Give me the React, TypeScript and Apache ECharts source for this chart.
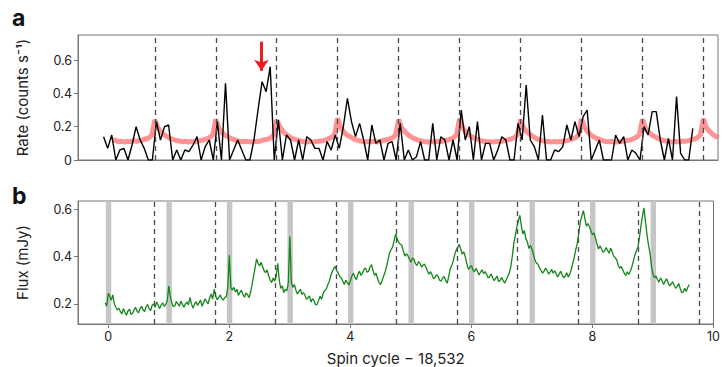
import React, { useEffect, useRef } from "react";
import * as echarts from "echarts";

// ---------- data ----------
// Panel a: observed X-ray rate (black), sampled every 1/15 spin cycle from x = -0.08
const RATE_X0 = -0.08;
const RATE_STEP = 1 / 15;
const rateValues = [
  0.14, 0.07, 0.15, 0.0, 0.06, 0.07, 0.0, 0.09, 0.2, 0.12, 0.07, 0.0, 0.0, 0.23, 0.12,
  0.2, 0.21, 0.0, 0.06, 0.0, 0.06, 0.05, 0.09, 0.14, 0.0, 0.08, 0.12, 0.0, 0.23, 0.0,
  0.46, 0.0, 0.06, 0.12, 0.06, 0.0, 0.0, 0.12, 0.3, 0.47, 0.41, 0.56, 0.0, 0.24, 0.0,
  0.15, 0.12, 0.0, 0.12, 0.0, 0.14, 0.12, 0.07, 0.07, 0.0, 0.11, 0.06, 0.15, 0.07, 0.2,
  0.37, 0.23, 0.14, 0.22, 0.12, 0.0, 0.21, 0.1, 0.12, 0.0, 0.1, 0.11, 0.0, 0.22, 0.0,
  0.06, 0.0, 0.02, 0.11, 0.0, 0.0, 0.22, 0.0, 0.14, 0.12, 0.0, 0.12, 0.0, 0.3, 0.12,
  0.2, 0.0, 0.23, 0.0, 0.1, 0.1, 0.0, 0.06, 0.14, 0.12, 0.0, 0.0, 0.22, 0.12, 0.45,
  0.12, 0.08, 0.0, 0.27, 0.0, 0.0, 0.06, 0.05, 0.08, 0.21, 0.12, 0.23, 0.14, 0.26, 0.3,
  0.0, 0.06, 0.12, 0.0, 0.0, 0.0, 0.15, 0.1, 0.14, 0.0, 0.06, 0.04, 0.0, 0.2, 0.15,
  0.29, 0.29, 0.12, 0.0, 0.13, 0.0, 0.38, 0.04, 0.0, 0.0, 0.19,
];

// Panel a: model rate (red), sampled every 0.05 cycle from x = 0.06
const MODEL_X0 = 0.06;
const MODEL_STEP = 0.05;
const modelValues = [
  0.12, 0.118, 0.11, 0.113, 0.108, 0.112, 0.11, 0.115, 0.112, 0.118, 0.12, 0.126, 0.132, 0.148, 0.24, 0.195, 0.17, 0.152, 0.14, 0.13,
  0.124, 0.117, 0.114, 0.11, 0.113, 0.108, 0.111, 0.109, 0.114, 0.117, 0.121, 0.127, 0.135, 0.15, 0.245, 0.19, 0.165, 0.15, 0.138, 0.128,
  0.122, 0.115, 0.112, 0.109, 0.112, 0.11, 0.108, 0.113, 0.11, 0.116, 0.122, 0.125, 0.134, 0.147, 0.24, 0.2, 0.172, 0.155, 0.14, 0.131,
  0.123, 0.119, 0.113, 0.11, 0.108, 0.112, 0.107, 0.111, 0.113, 0.115, 0.12, 0.128, 0.136, 0.152, 0.25, 0.196, 0.168, 0.15, 0.141, 0.129,
  0.121, 0.116, 0.112, 0.108, 0.111, 0.109, 0.112, 0.108, 0.112, 0.118, 0.121, 0.126, 0.133, 0.149, 0.242, 0.193, 0.17, 0.153, 0.139, 0.13,
  0.122, 0.117, 0.111, 0.11, 0.107, 0.11, 0.109, 0.112, 0.111, 0.116, 0.12, 0.125, 0.134, 0.15, 0.248, 0.198, 0.166, 0.151, 0.14, 0.128,
  0.124, 0.116, 0.113, 0.109, 0.11, 0.108, 0.112, 0.11, 0.113, 0.117, 0.122, 0.127, 0.135, 0.151, 0.243, 0.194, 0.169, 0.154, 0.142, 0.13,
  0.121, 0.118, 0.112, 0.111, 0.108, 0.111, 0.108, 0.112, 0.11, 0.115, 0.121, 0.126, 0.133, 0.148, 0.246, 0.197, 0.171, 0.152, 0.139, 0.129,
  0.123, 0.115, 0.111, 0.109, 0.112, 0.107, 0.11, 0.111, 0.114, 0.118, 0.12, 0.127, 0.136, 0.152, 0.244, 0.192, 0.167, 0.15, 0.141, 0.131,
  0.122, 0.117, 0.113, 0.11, 0.108, 0.111, 0.109, 0.112, 0.112, 0.116, 0.121, 0.125, 0.134, 0.149, 0.247, 0.195, 0.172, 0.155, 0.142, 0.135,
];

// Panel b: radio flux (green), sampled every 0.025 cycle from x = -0.05
const FLUX_X0 = -0.05;
const FLUX_STEP = 0.025;
const fluxValues = [
  0.205, 0.19, 0.245, 0.232, 0.215, 0.238, 0.2, 0.186, 0.175, 0.182, 0.168, 0.158, 0.18, 0.166, 0.152, 0.17, 0.178, 0.156, 0.16, 0.174,
  0.186, 0.17, 0.162, 0.18, 0.19, 0.174, 0.168, 0.188, 0.198, 0.18, 0.172, 0.194, 0.2, 0.186, 0.208, 0.194, 0.18, 0.196, 0.204, 0.19,
  0.198, 0.214, 0.275, 0.232, 0.205, 0.188, 0.192, 0.21, 0.2, 0.19, 0.212, 0.198, 0.186, 0.2, 0.208, 0.196, 0.228, 0.2, 0.182, 0.198,
  0.21, 0.194, 0.204, 0.216, 0.19, 0.206, 0.222, 0.21, 0.2, 0.226, 0.242, 0.22, 0.262, 0.232, 0.218, 0.226, 0.238, 0.222, 0.216, 0.228,
  0.23, 0.27, 0.405, 0.27, 0.258, 0.27, 0.25, 0.262, 0.236, 0.248, 0.258, 0.24, 0.228, 0.246, 0.24, 0.226, 0.248, 0.28, 0.316, 0.352,
  0.39, 0.372, 0.36, 0.376, 0.358, 0.34, 0.332, 0.344, 0.318, 0.302, 0.29, 0.31, 0.296, 0.318, 0.372, 0.3, 0.266, 0.276, 0.248, 0.262,
  0.255, 0.29, 0.485, 0.29, 0.27, 0.282, 0.258, 0.242, 0.252, 0.262, 0.24, 0.248, 0.236, 0.22, 0.226, 0.234, 0.208, 0.222, 0.214, 0.196,
  0.198, 0.214, 0.232, 0.22, 0.244, 0.256, 0.262, 0.28, 0.294, 0.318, 0.336, 0.35, 0.358, 0.34, 0.33, 0.316, 0.31, 0.296, 0.282, 0.3,
  0.29, 0.28, 0.298, 0.318, 0.33, 0.312, 0.302, 0.326, 0.338, 0.32, 0.33, 0.346, 0.352, 0.334, 0.338, 0.356, 0.366, 0.34, 0.32, 0.33,
  0.306, 0.29, 0.282, 0.3, 0.318, 0.336, 0.36, 0.39, 0.418, 0.43, 0.442, 0.47, 0.496, 0.474, 0.46, 0.452, 0.448, 0.424, 0.402, 0.412,
  0.404, 0.39, 0.376, 0.394, 0.39, 0.37, 0.362, 0.378, 0.372, 0.356, 0.364, 0.368, 0.354, 0.338, 0.326, 0.336, 0.322, 0.306, 0.312, 0.324,
  0.316, 0.3, 0.296, 0.31, 0.316, 0.298, 0.288, 0.316, 0.348, 0.362, 0.382, 0.41, 0.428, 0.44, 0.452, 0.43, 0.41, 0.42, 0.398, 0.37,
  0.346, 0.354, 0.362, 0.344, 0.336, 0.35, 0.338, 0.322, 0.334, 0.344, 0.328, 0.336, 0.326, 0.31, 0.314, 0.326, 0.312, 0.298, 0.308, 0.318,
  0.294, 0.3, 0.312, 0.298, 0.288, 0.302, 0.316, 0.33, 0.356, 0.4, 0.456, 0.49, 0.524, 0.552, 0.574, 0.53, 0.496, 0.51, 0.476, 0.462,
  0.434, 0.448, 0.432, 0.408, 0.386, 0.372, 0.368, 0.352, 0.342, 0.33, 0.338, 0.352, 0.34, 0.326, 0.334, 0.346, 0.33, 0.34, 0.328, 0.314,
  0.326, 0.338, 0.322, 0.31, 0.318, 0.332, 0.314, 0.326, 0.346, 0.372, 0.398, 0.43, 0.456, 0.5, 0.548, 0.572, 0.594, 0.56, 0.528, 0.54,
  0.526, 0.508, 0.492, 0.5, 0.478, 0.452, 0.432, 0.446, 0.432, 0.418, 0.424, 0.438, 0.426, 0.414, 0.436, 0.42, 0.402, 0.396, 0.386, 0.364,
  0.35, 0.358, 0.344, 0.33, 0.32, 0.336, 0.324, 0.338, 0.356, 0.38, 0.406, 0.424, 0.438, 0.48, 0.526, 0.57, 0.606, 0.55, 0.494, 0.45,
  0.416, 0.36, 0.326, 0.31, 0.318, 0.302, 0.292, 0.31, 0.298, 0.282, 0.296, 0.306, 0.29, 0.276, 0.284, 0.294, 0.278, 0.266, 0.274, 0.286,
  0.264, 0.248, 0.25, 0.266, 0.252, 0.27, 0.282,
];

// Dashed reference phases and grey windows (spin-cycle units)
const dashedPhases = [0.76, 1.76, 2.76, 3.76, 4.76, 5.76, 6.76, 7.76, 8.76, 9.76];
const bandStarts = [-0.04, 0.96, 1.96, 2.96, 3.96, 4.96, 5.96, 6.96, 7.96, 8.96];
const bandEnds = [0.05, 1.05, 2.05, 3.05, 4.05, 5.05, 6.05, 7.05, 8.05, 9.05];

// Arrow annotation (x, y from, y to) in data units of panel a
const arrowX = 2.51;
const arrowFrom = 0.71;
const arrowTo = 0.535;

// Tick labels
const xTicks = [0, 2, 4, 6, 8, 10];
const rateTicks = [0, 0.2, 0.4, 0.6];
const fluxTicks = [0.2, 0.4, 0.6];

const FONT = "Inter, Roboto, 'DejaVu Sans', sans-serif";
const AXIS_COLOR = "#777";
const TEXT_COLOR = "#222";

export default function App() {
  const ref = useRef<HTMLDivElement>(null);

  useEffect(() => {
    if (!ref.current) return;
    const chart = echarts.init(ref.current, null, { renderer: "svg" });

    const rateData = rateValues.map((v, i) => [RATE_X0 + i * RATE_STEP, v]);
    const modelData = modelValues.map((v, i) => [MODEL_X0 + i * MODEL_STEP, v]);
    const fluxData = fluxValues.map((v, i) => [FLUX_X0 + i * FLUX_STEP, v]);

    const dashLines = {
      silent: true,
      symbol: "none",
      label: { show: false },
      lineStyle: { color: "#4a4a4a", type: [5, 4], width: 1.3 },
      data: dashedPhases.map((x) => ({ xAxis: x })),
    };

    const fmt = (v: number) => (v === 0 ? "0" : v.toFixed(1));

    const yAxisCommon = {
      type: "value" as const,
      nameLocation: "middle" as const,
      nameTextStyle: { fontSize: 15, color: TEXT_COLOR, fontFamily: FONT },
      axisLine: { show: true, onZero: false, lineStyle: { color: AXIS_COLOR } },
      splitLine: { show: false },
    };

    chart.setOption({
      animation: false,
      backgroundColor: "#fff",
      grid: [
        { left: 78, right: 5, top: 35, height: 125, show: true, borderColor: AXIS_COLOR, borderWidth: 1 },
        { left: 78, right: 5, top: 201, height: 125, show: true, borderColor: AXIS_COLOR, borderWidth: 1 },
      ],
      xAxis: [
        {
          gridIndex: 0,
          type: "value",
          min: -0.5,
          max: 10,
          axisLine: { show: true, onZero: false, lineStyle: { color: AXIS_COLOR } },
          axisTick: { show: false },
          axisLabel: { show: false },
          splitLine: { show: false },
        },
        {
          gridIndex: 1,
          type: "value",
          min: -0.5,
          max: 10,
          name: "Spin cycle − 18,532",
          nameLocation: "middle",
          nameGap: 27,
          nameTextStyle: { fontSize: 15, color: TEXT_COLOR, fontFamily: FONT },
          axisLine: { show: true, onZero: false, lineStyle: { color: AXIS_COLOR } },
          axisTick: { show: true, customValues: xTicks, length: 4, lineStyle: { color: AXIS_COLOR } },
          axisLabel: { customValues: xTicks, fontSize: 12.5, color: TEXT_COLOR, fontFamily: FONT, margin: 6 },
          splitLine: { show: false },
        },
      ],
      yAxis: [
        {
          ...yAxisCommon,
          gridIndex: 0,
          min: 0,
          max: 0.75,
          name: "Rate (counts s⁻¹)",
          nameGap: 48,
          axisTick: { show: true, customValues: rateTicks, length: 4, lineStyle: { color: AXIS_COLOR } },
          axisLabel: { customValues: rateTicks, formatter: fmt, fontSize: 12.5, color: TEXT_COLOR, fontFamily: FONT, margin: 6 },
        },
        {
          ...yAxisCommon,
          gridIndex: 1,
          min: 0.115,
          max: 0.635,
          name: "Flux (mJy)",
          nameGap: 48,
          axisTick: { show: true, customValues: fluxTicks, length: 4, lineStyle: { color: AXIS_COLOR } },
          axisLabel: { customValues: fluxTicks, formatter: fmt, fontSize: 12.5, color: TEXT_COLOR, fontFamily: FONT, margin: 6 },
        },
      ],
      graphic: [
        { type: "text", left: 12, top: 6, style: { text: "a", font: `bold 23px ${FONT}`, fill: "#111" } },
        { type: "text", left: 12, top: 184, style: { text: "b", font: `bold 23px ${FONT}`, fill: "#111" } },
      ],
      series: [
        {
          name: "model",
          type: "line",
          xAxisIndex: 0,
          yAxisIndex: 0,
          data: modelData,
          showSymbol: false,
          z: 2,
          lineStyle: { color: "#ff7878", width: 5, opacity: 0.8 },
          markLine: dashLines,
        },
        {
          name: "rate",
          type: "line",
          xAxisIndex: 0,
          yAxisIndex: 0,
          data: rateData,
          showSymbol: false,
          z: 3,
          lineStyle: { color: "#000", width: 1.4 },
          markLine: {
            silent: true,
            symbol: ["none", "arrow"],
            symbolSize: 11,
            label: { show: false },
            lineStyle: { color: "#ee1c1c", type: "solid", width: 3 },
            data: [[{ coord: [arrowX, arrowFrom] }, { coord: [arrowX, arrowTo] }]],
          },
        },
        {
          name: "flux",
          type: "line",
          xAxisIndex: 1,
          yAxisIndex: 1,
          data: fluxData,
          showSymbol: false,
          z: 3,
          lineStyle: { color: "#14871a", width: 1.3 },
          markLine: dashLines,
          markArea: {
            silent: true,
            itemStyle: { color: "#c6c6c6", opacity: 1 },
            data: bandStarts.map((s, i) => [{ xAxis: s }, { xAxis: bandEnds[i] }]),
          },
        },
      ],
    });

    return () => chart.dispose();
  }, []);

  return (
    <div
      ref={ref}
      style={{ position: "fixed", left: 0, top: 0, width: 723, height: 367, background: "#fff" }}
    />
  );
}
